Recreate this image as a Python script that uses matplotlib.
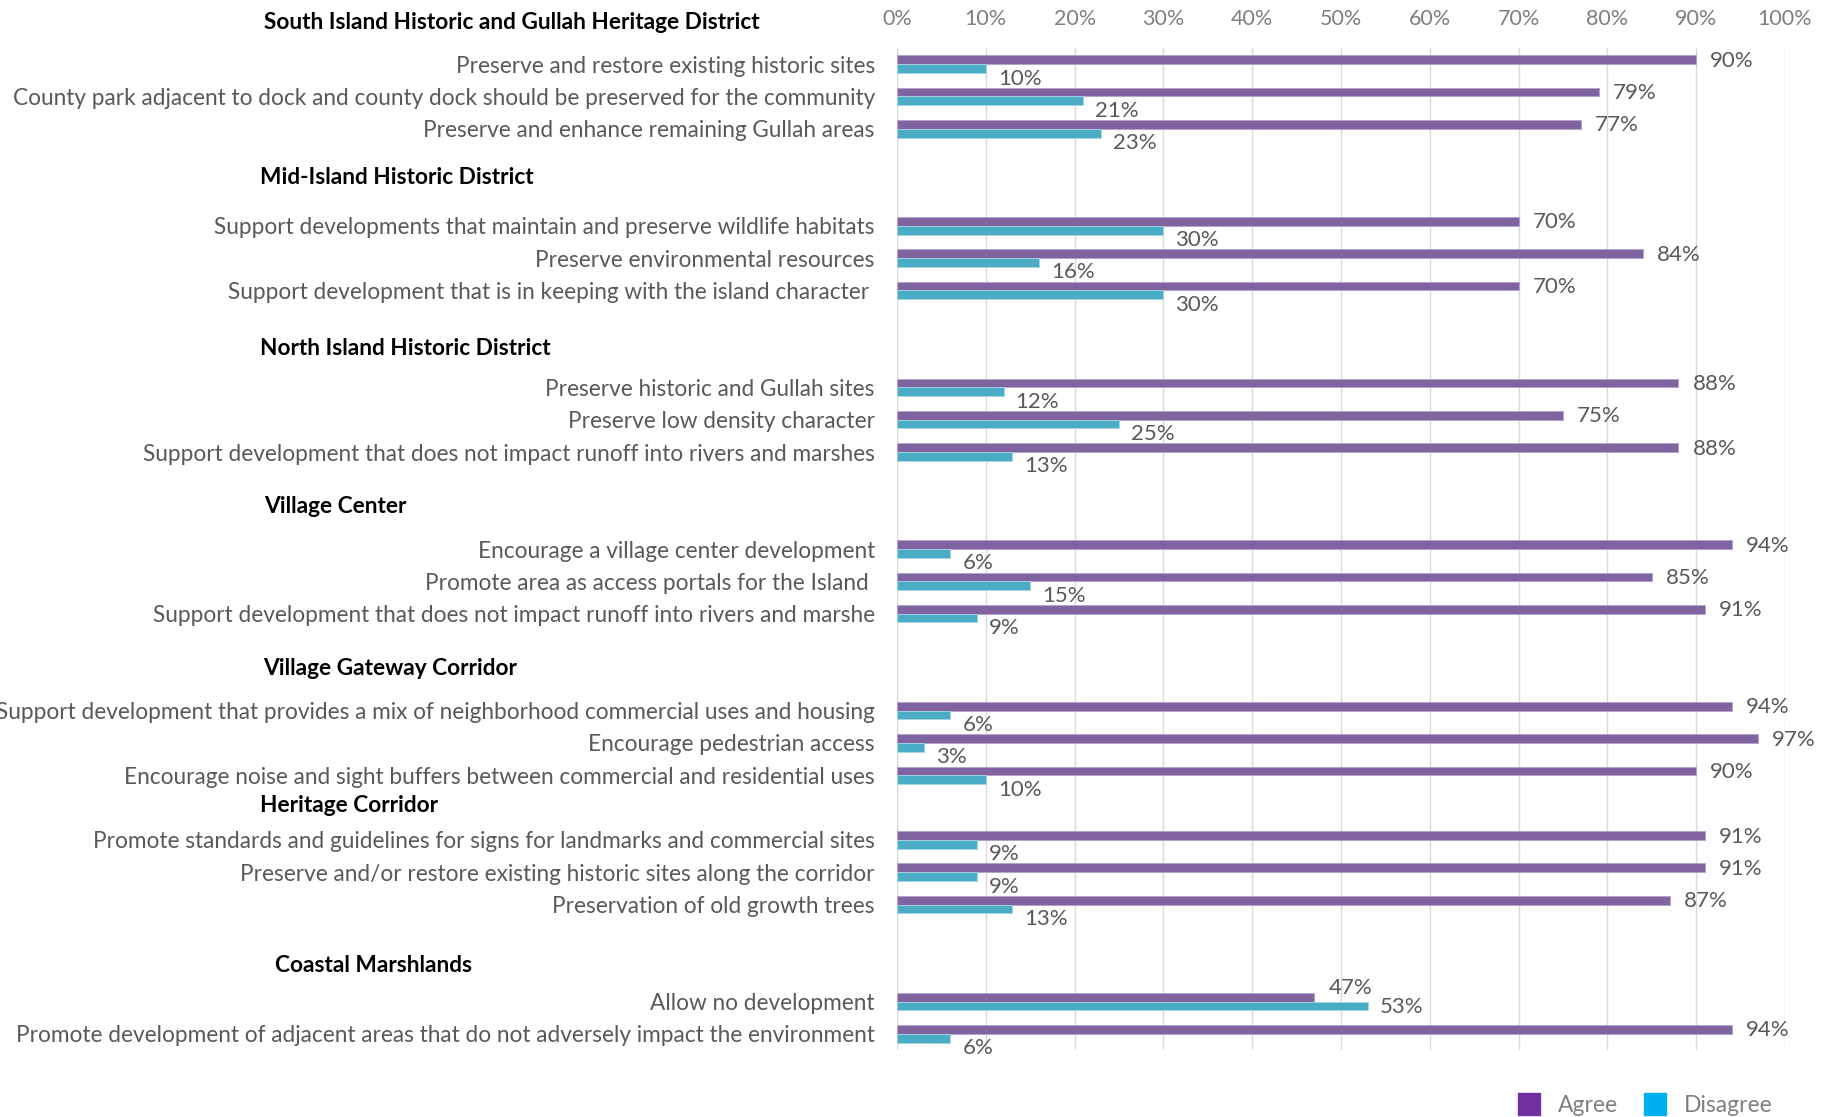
import matplotlib
matplotlib.use("Agg")
import matplotlib.pyplot as plt
import matplotlib.transforms as mtransforms
from matplotlib.lines import Line2D
import numpy as np

# survey items, blank rows separate the districts
categories = [
    'Preserve and restore existing historic sites',
    'County park adjacent to dock and county dock should be preserved for the community',
    'Preserve and enhance remaining Gullah areas',
    '', '',
    'Support developments that maintain and preserve wildlife habitats',
    'Preserve environmental resources',
    'Support development that is in keeping with the island character ',
    '', '',
    'Preserve historic and Gullah sites',
    'Preserve low density character',
    'Support development that does not impact runoff into rivers and marshes',
    '', '',
    'Encourage a village center development',
    'Promote area as access portals for the Island ',
    'Support development that does not impact runoff into rivers and marshe',
    '', '',
    'Support development that provides a mix of neighborhood commercial uses and housing',
    'Encourage pedestrian access',
    'Encourage noise and sight buffers between commercial and residential uses',
    '',
    'Promote standards and guidelines for signs for landmarks and commercial sites',
    'Preserve and/or restore existing historic sites along the corridor',
    'Preservation of old growth trees',
    '', '',
    'Allow no development',
    'Promote development of adjacent areas that do not adversely impact the environment',
]
agree = [90, 79, 77, None, None, 70, 84, 70, None, None, 88, 75, 88, None, None,
         94, 85, 91, None, None, 94, 97, 90, None, 91, 91, 87, None, None, 47, 94]
disagree = [10, 21, 23, None, None, 30, 16, 30, None, None, 12, 25, 13, None, None,
            6, 15, 9, None, None, 6, 3, 10, None, 9, 9, 13, None, None, 53, 6]

districts = [
    'South Island Historic and Gullah Heritage District',
    'Mid-Island Historic District',
    'North Island Historic District',
    'Village Center',
    'Village Gateway Corridor',
    'Heritage Corridor',
    'Coastal Marshlands',
]
# where each district heading sits (x in figure px, y in row units)
district_pos = [(264, -1.3), (260, 3.5), (260, 8.8), (264, 13.7),
                (263, 18.7), (260, 22.95), (275, 27.9)]

PURPLE = '#8064A2'
CYAN = '#4BACC6'
GRAY = '#595959'
FONT = ['Lato', 'DejaVu Sans']
FS = 16.3

plt.rcParams['font.family'] = FONT

W, H = 1835, 1117
fig = plt.figure(figsize=(W / 100, H / 100), dpi=100)
ax = fig.add_axes([897 / W, 1 - 1050 / H, (1785 - 897) / W, (1050 - 48) / H])

y = np.arange(len(categories))
a = np.array([np.nan if v is None else v for v in agree], dtype=float)
d = np.array([np.nan if v is None else v for v in disagree], dtype=float)
h = 0.27

ax.barh(y - h / 2, a, height=h, color=PURPLE, edgecolor='#B4A2C8', linewidth=0.6, zorder=3)
ax.barh(y + h / 2, d, height=h, color=CYAN, edgecolor='#A5D5E3', linewidth=0.6, zorder=3)

ax.set_xlim(0, 100)
ax.set_ylim(len(categories) - 0.5, -0.5)
ax.set_xticks(np.arange(0, 101, 10))
ax.set_xticklabels([f'{t}%' for t in range(0, 101, 10)])
ax.xaxis.tick_top()
ax.tick_params(axis='x', length=0, pad=14, labelsize=15.5, labelcolor='#7F7F7F')
ax.set_yticks(y)
ax.set_yticklabels(categories)
ax.tick_params(axis='y', length=0, pad=16, labelsize=FS, labelcolor=GRAY)
ax.grid(axis='x', color='#D9D9D9', linewidth=1.0, zorder=0)
for s in ax.spines.values():
    s.set_visible(False)

# value labels
px = mtransforms.ScaledTranslation
for yi, av, dv in zip(y, a, d):
    if np.isnan(av):
        continue
    if av < dv:
        a_off, d_off = 9, -1
    else:
        a_off, d_off = -1, -10
    ax.text(av, yi - h / 2, f'{av:.0f}%', fontsize=16, color=GRAY, va='center', ha='left',
            transform=ax.transData + px(14 / 100, a_off / 100, fig.dpi_scale_trans))
    ax.text(dv, yi + h / 2, f'{dv:.0f}%', fontsize=16, color=GRAY, va='center', ha='left',
            transform=ax.transData + px(12 / 100, d_off / 100, fig.dpi_scale_trans))

# district headings
head_tr = mtransforms.blended_transform_factory(fig.transFigure, ax.transData)
for name, (hx, hy) in zip(districts, district_pos):
    ax.text(hx / W, hy, name, transform=head_tr, fontsize=FS, fontweight='bold',
            color='black', va='center', ha='left', clip_on=False)

# legend
handles = [Line2D([], [], marker='s', linestyle='none', markersize=15.5,
                  markerfacecolor='#7030A0', markeredgecolor='#7030A0'),
           Line2D([], [], marker='s', linestyle='none', markersize=15.5,
                  markerfacecolor='#00B0F0', markeredgecolor='#00B0F0')]
fig.legend(handles, ['Agree', 'Disagree'], loc='center', bbox_to_anchor=(1645 / W, 1 - 1106 / H),
           ncol=2, frameon=False, fontsize=16.5, labelcolor='#808080',
           handlelength=1.0, handletextpad=0.75, columnspacing=1.1)

fig.savefig('out.png', dpi=100)
